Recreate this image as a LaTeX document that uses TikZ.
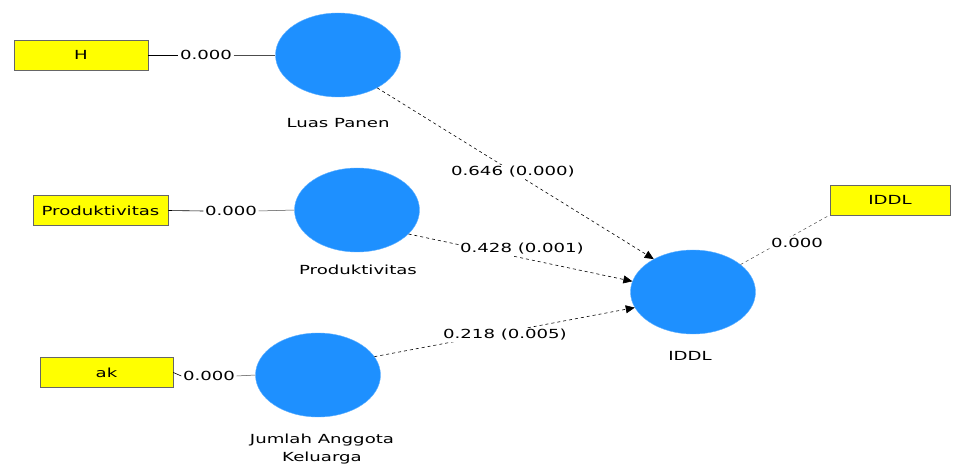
\documentclass[tikz,border=0pt]{standalone}
\usepackage{fontspec}
\setmainfont{DejaVu Sans}
\usetikzlibrary{arrows.meta,shapes.geometric}
\definecolor{lvblue}{RGB}{30,144,255}
\definecolor{indyellow}{RGB}{255,255,0}
\begin{document}
\begin{tikzpicture}[x=1pt,y=-1pt,
  every node/.style={inner sep=1pt},
  txt/.style={font=\fontsize{12.5}{18}\selectfont, xscale=1.45, transform shape},
  indbox/.style={txt, draw=black!60, line width=0.5pt, fill=indyellow, minimum height=30, inner sep=0pt},
  latent/.style={ellipse, fill=lvblue, draw=lvblue!70, minimum width=125, minimum height=84, inner sep=0pt},
  wlabel/.style={txt, fill=white, inner sep=1pt},
  outerline/.style={line width=0.5pt, black!70},
  innerpath/.style={dashed, line width=0.6pt, -{Triangle[length=9pt,width=8pt]}},
]
\useasboundingbox (0,0) rectangle (955,470);
% latent variables
\node[latent] (lp) at (338,55) {};
\node[latent] (pr) at (357,210) {};
\node[latent] (ja) at (318,375) {};
\node[latent] (iddl) at (693,292) {};
\node[txt] (lplab) at (338,123) {Luas Panen};
\node[txt] (prlab) at (358,270) {Produktivitas};
\node[txt, align=center] (jalab) at (322,449) {Jumlah Anggota\\Keluarga};
\node[txt] (iddllab) at (690,356) {IDDL};
% indicators
\node[indbox, minimum width=92.4] (h) at (81,55) {H};
\node[indbox, minimum width=93.1] (p) at (100.5,210.5) {Produktivitas};
\node[indbox, minimum width=91.7] (ak) at (106.5,372.5) {ak};
\node[indbox, minimum width=82.8] (iddlbox) at (890,200) {IDDL};
% inner paths (drawn first, labels on top)
\draw[innerpath] (lp.-40) -- (iddl.140);
\draw[innerpath] (pr.-25) -- (iddl.170);
\draw[innerpath] (ja.18) -- (iddl.195);
\draw[outerline, dashed] (iddl.30) -- (iddlbox.200);
\node[wlabel] (c1) at (513,172) {0.646 (0.000)};
\node[wlabel] (c2) at (522,249) {0.428 (0.001)};
\node[wlabel] (c3) at (505,335) {0.218 (0.005)};
% outer loadings
\node[wlabel] (l1) at (206,55) {0.000};
\node[wlabel] (l2) at (231,211) {0.000};
\node[wlabel] (l3) at (209,376) {0.000};
\node[wlabel] (l4) at (797,243) {0.000};
\draw[line width=0.6pt] (h.east) -- (l1.west);
\draw[outerline] (l1.east) -- (lp.west);
\draw[line width=0.6pt] (p.east) -- (l2.west);
\draw[outerline] (l2.east) -- (pr.west);
\draw[line width=0.6pt] (ak.east) -- (l3.west);
\draw[outerline] (l3.east) -- (ja.west);
\end{tikzpicture}
\end{document}
